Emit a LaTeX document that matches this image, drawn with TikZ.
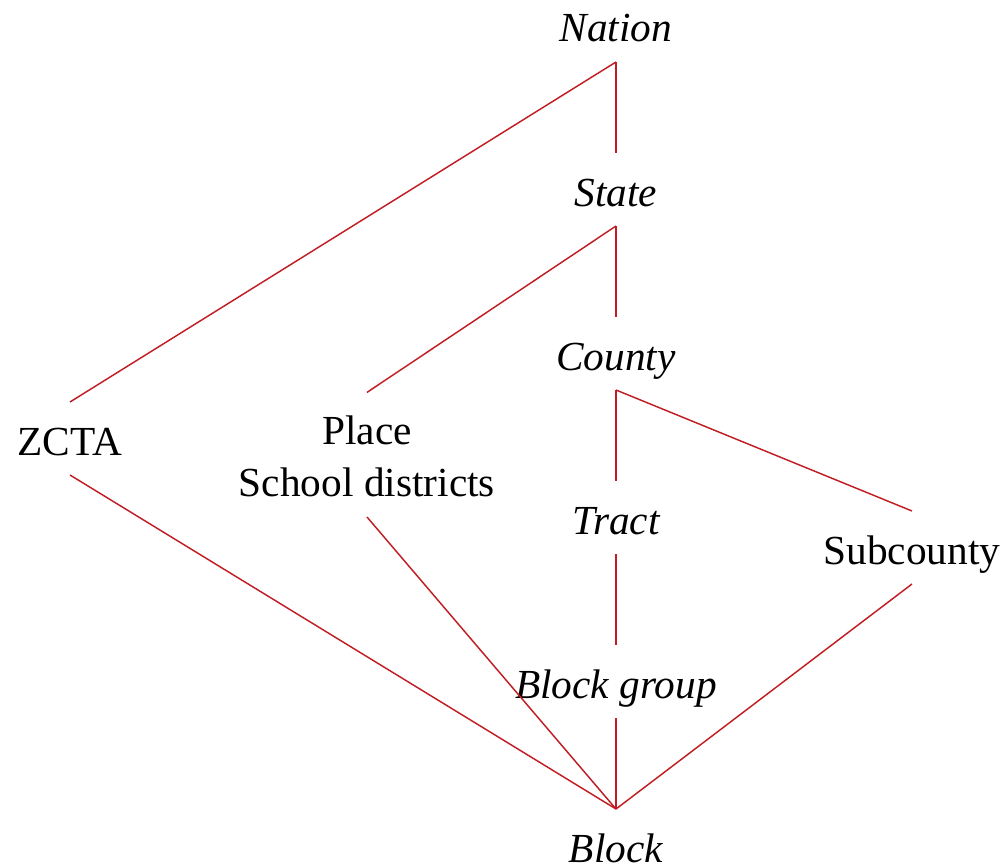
\documentclass[tikz,border=0pt]{standalone}
\usepackage{fontspec}
\setmainfont{Liberation Serif}
\definecolor{edgered}{RGB}{192,30,36}
\begin{document}
\begin{tikzpicture}[x=0.75pt,y=-0.75pt,
  lbl/.style={font=\fontsize{31}{39}\selectfont, inner sep=0pt, anchor=base},
  itl/.style={lbl, font=\fontsize{31}{39}\selectfont\itshape},
  edge/.style={draw=edgered, line width=1.1pt}]
\useasboundingbox (0,0) rectangle (1008,867);
\node[itl] (nation) at (616,42) {Nation};
\node[itl] (state) at (616,206) {State};
\node[itl] (county) at (616,370) {County};
\node[itl] (tract) at (616,534) {Tract};
\node[itl] (bgroup) at (616,698) {Block group};
\node[itl] (block) at (616,862) {Block};
\node[lbl] (zcta) at (70,455) {ZCTA};
\node[lbl, align=center, anchor=south] (place) at (367,497) {Place\\School districts};
\node[lbl] (subcounty) at (912,564) {Subcounty};
% vertical chain
\draw[edge] ([shift={(0,20)}]nation.base) -- ([shift={(0,-53)}]state.base);
\draw[edge] ([shift={(0,20)}]state.base) -- ([shift={(0,-53)}]county.base);
\draw[edge] ([shift={(0,20)}]county.base) -- ([shift={(0,-53)}]tract.base);
\draw[edge] ([shift={(0,20)}]tract.base) -- ([shift={(0,-53)}]bgroup.base);
\draw[edge] ([shift={(0,20)}]bgroup.base) -- ([shift={(0,-53)}]block.base);
% side branches
\draw[edge] ([shift={(0,20)}]nation.base) -- ([shift={(0,-53)}]zcta.base);
\draw[edge] ([shift={(0,20)}]zcta.base) -- ([shift={(0,-53)}]block.base);
\draw[edge] ([shift={(0,20)}]state.base) -- ([shift={(0,-23)}]place.north);
\draw[edge] ([shift={(0,20)}]place.south) -- ([shift={(0,-53)}]block.base);
\draw[edge] ([shift={(0,20)}]county.base) -- ([shift={(0,-53)}]subcounty.base);
\draw[edge] ([shift={(0,20)}]subcounty.base) -- ([shift={(0,-53)}]block.base);
\end{tikzpicture}
\end{document}
